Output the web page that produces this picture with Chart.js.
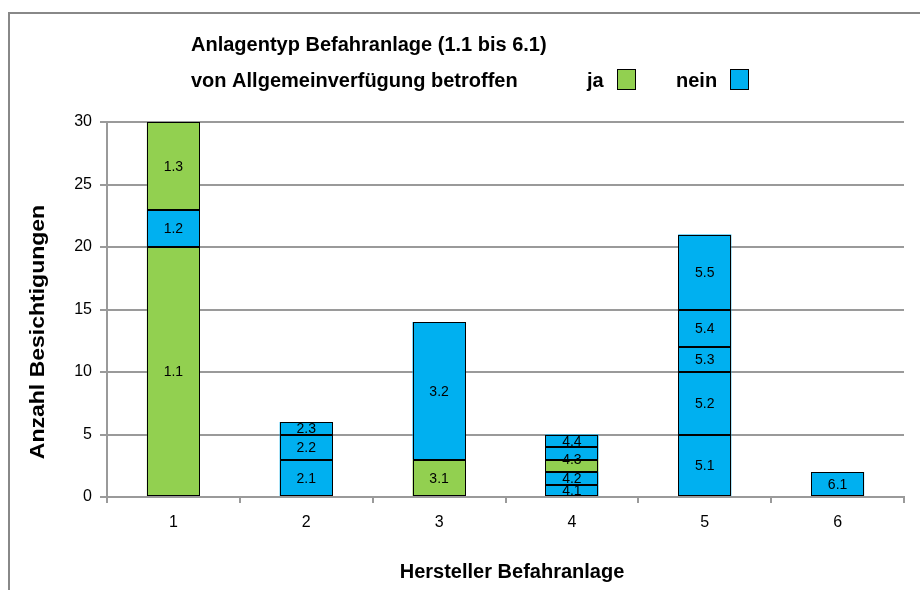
<!DOCTYPE html>
<html>
<head>
<meta charset="utf-8">
<script src="https://cdn.jsdelivr.net/npm/chart.js@4/dist/chart.umd.min.js"></script>
<style>
  html, body { margin: 0; padding: 0; background: #fff; }
  #wrap { width: 920px; height: 590px; position: relative; }
</style>
</head>
<body>
<div id="wrap"><canvas id="chart" width="920" height="590"></canvas></div>
<script>
// Hersteller (x-Achse)
const hersteller = ['1', '2', '3', '4', '5', '6'];

// Stapel-Ebenen von unten nach oben: Anzahl, Anlagentyp, betroffen (1 = ja)
const ebene1 = [20, 3, 3, 1, 5, 2];
const ebene1Typ = ['1.1', '2.1', '3.1', '4.1', '5.1', '6.1'];
const ebene1Ja = [1, 0, 1, 0, 0, 0];

const ebene2 = [3, 2, 11, 1, 5, null];
const ebene2Typ = ['1.2', '2.2', '3.2', '4.2', '5.2', ''];
const ebene2Ja = [0, 0, 0, 0, 0, 0];

const ebene3 = [7, 1, null, 1, 2, null];
const ebene3Typ = ['1.3', '2.3', '', '4.3', '5.3', ''];
const ebene3Ja = [1, 0, 0, 1, 0, 0];

const ebene4 = [null, null, null, 1, 3, null];
const ebene4Typ = ['', '', '', '4.3', '5.4', ''];
const ebene4Ja = [0, 0, 0, 0, 0, 0];

const ebene5 = [null, null, null, 1, 6, null];
const ebene5Typ = ['', '', '', '4.4', '5.5', ''];
const ebene5Ja = [0, 0, 0, 0, 0, 0];

const yTicks = [0, 5, 10, 15, 20, 25, 30];

const GRUEN = '#92D050';
const BLAU = '#00B0F0';
const GRAU = '#9a9a9a';
const SCHRIFT = '"Liberation Sans", Arial, sans-serif';

const ebenen = [
    [ebene1, ebene1Typ, ebene1Ja],
    [ebene2, ebene2Typ, ebene2Ja],
    [ebene3, ebene3Typ, ebene3Ja],
    [ebene4, ebene4Typ, ebene4Ja],
    [ebene5, ebene5Typ, ebene5Ja]
];

const datasets = ebenen.map(([werte, typen, ja], i) => ({
    label: 'Ebene ' + (i + 1),
    data: werte,
    typen: typen,
    backgroundColor: ja.map(j => j ? GRUEN : BLAU),
    borderWidth: 0,
    barPercentage: 0.4,
    categoryPercentage: 1
}));

// schwarze Umrandung (pixelgenau) und Beschriftung der Segmente
const segmentLabels = {
    id: 'segmentLabels',
    afterDatasetsDraw(chart) {
        const ctx = chart.ctx;
        ctx.save();
        ctx.strokeStyle = '#000';
        ctx.lineWidth = 1;
        chart.data.datasets.forEach((ds, d) => {
            chart.getDatasetMeta(d).data.forEach((bar, i) => {
                if (ds.data[i] == null) return;
                const l = Math.round(bar.x - bar.width / 2) + 0.5;
                const r = Math.round(bar.x + bar.width / 2) - 0.5;
                const t = Math.round(bar.y) + 0.5;
                const b = Math.round(bar.base) - 0.5;
                ctx.strokeRect(l, t, r - l, b - t);
            });
        });

        ctx.font = '14px ' + SCHRIFT;
        ctx.fillStyle = '#000';
        ctx.textAlign = 'center';
        ctx.textBaseline = 'middle';
        hersteller.forEach((h, i) => {
            const segs = [];
            chart.data.datasets.forEach((ds, d) => {
                if (ds.data[i] == null) return;
                const bar = chart.getDatasetMeta(d).data[i];
                const typ = ds.typen[i];
                const last = segs[segs.length - 1];
                if (last && last.typ === typ) {
                    last.top = bar.y;
                } else {
                    segs.push({ typ: typ, x: bar.x, top: bar.y, bottom: bar.base });
                }
            });
            segs.forEach(s => {
                if (s.typ) ctx.fillText(s.typ, s.x, (s.top + s.bottom) / 2 + 1);
            });
        });
        ctx.restore();
    }
};

// Rahmen, Kopfzeilen, Legende, Achsentitel
const rahmenUndTexte = {
    id: 'rahmenUndTexte',
    afterDraw(chart) {
        const ctx = chart.ctx;
        ctx.save();
        ctx.strokeStyle = '#888';
        ctx.lineWidth = 2;
        ctx.beginPath();
        ctx.moveTo(9, 600);
        ctx.lineTo(9, 13);
        ctx.lineTo(930, 13);
        ctx.stroke();

        ctx.fillStyle = '#000';
        ctx.textBaseline = 'middle';
        ctx.textAlign = 'left';
        ctx.font = 'bold 20px ' + SCHRIFT;
        ctx.fillText('Anlagentyp Befahranlage (1.1 bis 6.1)', 191, 45);
        ctx.fillText('von Allgemeinverfügung betroffen', 191, 81);
        ctx.fillText('ja', 587, 81);
        ctx.fillText('nein', 676, 81);

        ctx.lineWidth = 1;
        ctx.strokeStyle = '#000';
        ctx.fillStyle = GRUEN;
        ctx.fillRect(617.5, 69.5, 18, 20);
        ctx.strokeRect(617.5, 69.5, 18, 20);
        ctx.fillStyle = BLAU;
        ctx.fillRect(730.5, 69.5, 18, 20);
        ctx.strokeRect(730.5, 69.5, 18, 20);

        ctx.fillStyle = '#000';
        ctx.textAlign = 'center';
        ctx.font = 'bold 20px ' + SCHRIFT;
        ctx.fillText('Hersteller Befahranlage', 512, 572);

        ctx.translate(38, 332);
        ctx.rotate(-Math.PI / 2);
        ctx.scale(1.15, 1);
        ctx.fillText('Anzahl Besichtigungen', 0, 0);
        ctx.restore();
    }
};

new Chart(document.getElementById('chart'), {
    type: 'bar',
    data: { labels: hersteller, datasets: datasets },
    options: {
        responsive: false,
        animation: false,
        layout: { padding: { top: 122, right: 16, left: 0, bottom: 0 } },
        plugins: {
            legend: { display: false },
            title: { display: false },
            tooltip: { enabled: false }
        },
        scales: {
            x: {
                stacked: true,
                grid: { drawOnChartArea: false, drawTicks: true, tickLength: 6, color: GRAU, lineWidth: 2, offset: true },
                border: { color: GRAU, width: 2 },
                ticks: { color: '#000', font: { size: 16, family: SCHRIFT }, padding: 10 },
                afterFit(scale) { scale.height = 93; }
            },
            y: {
                stacked: true,
                min: 0,
                max: 30,
                afterBuildTicks(scale) { scale.ticks = yTicks.map(v => ({ value: v })); },
                grid: { color: GRAU, lineWidth: 2, tickLength: 7 },
                border: { color: GRAU, width: 2 },
                ticks: { color: '#000', font: { size: 16, family: SCHRIFT }, padding: 8 },
                afterFit(scale) { scale.width = 107; }
            }
        }
    },
    plugins: [segmentLabels, rahmenUndTexte]
});
</script>
</body>
</html>
